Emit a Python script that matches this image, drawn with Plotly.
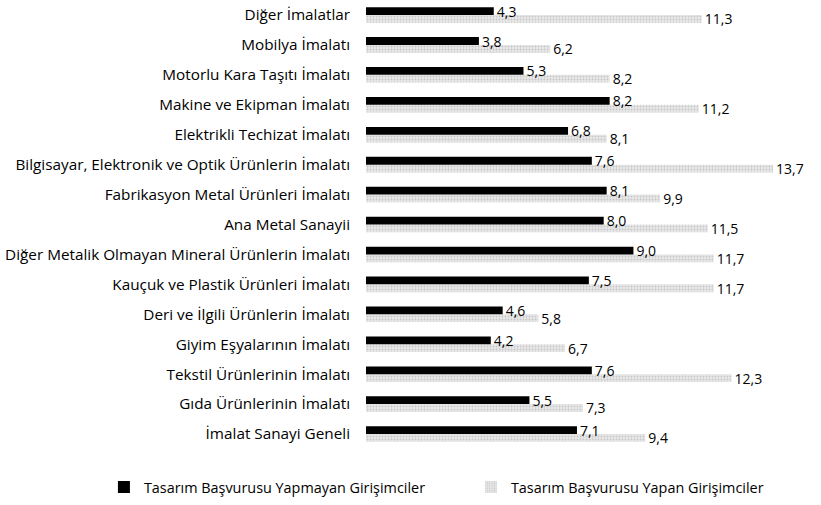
import plotly.graph_objects as go

categories = [
    "Diğer İmalatlar",
    "Mobilya İmalatı",
    "Motorlu Kara Taşıtı İmalatı",
    "Makine ve Ekipman İmalatı",
    "Elektrikli Techizat İmalatı",
    "Bilgisayar, Elektronik ve Optik Ürünlerin İmalatı",
    "Fabrikasyon Metal Ürünleri İmalatı",
    "Ana Metal Sanayii",
    "Diğer Metalik Olmayan Mineral Ürünlerin İmalatı",
    "Kauçuk ve Plastik Ürünleri İmalatı",
    "Deri ve İlgili Ürünlerin İmalatı",
    "Giyim Eşyalarının İmalatı",
    "Tekstil Ürünlerinin İmalatı",
    "Gıda Ürünlerinin İmalatı",
    "İmalat Sanayi Geneli",
]
yapmayan = [4.3, 3.8, 5.3, 8.2, 6.8, 7.6, 8.1, 8.0, 9.0, 7.5, 4.6, 4.2, 7.6, 5.5, 7.1]
yapan = [11.3, 6.2, 8.2, 11.2, 8.1, 13.7, 9.9, 11.5, 11.7, 11.7, 5.8, 6.7, 12.3, 7.3, 9.4]
series_names = ["Tasarım Başvurusu Yapmayan Girişimciler", "Tasarım Başvurusu Yapan Girişimciler"]

FONT = "Open Sans"

fig = go.Figure()
fig.add_trace(go.Bar(
    y=categories, x=yapan, orientation="h", name=series_names[1], legendrank=2,
    marker=dict(color="#dcdcdc", line=dict(width=0),
                pattern=dict(shape=".", fgcolor="#a5a5a5", bgcolor="#e8e8e8", size=3, solidity=0.3)),
    texttemplate="%{x:.1f}", textposition="outside", cliponaxis=False, constraintext="none",
    textfont=dict(family=FONT, size=14, color="#000000"),
))
fig.add_trace(go.Bar(
    y=categories, x=yapmayan, orientation="h", name=series_names[0], legendrank=1,
    marker=dict(color="#000000", line=dict(width=0)),
    texttemplate="%{x:.1f}", textposition="outside", cliponaxis=False, constraintext="none",
    textfont=dict(family=FONT, size=14, color="#000000"),
))

fig.update_layout(
    width=821, height=505,
    margin=dict(l=366, r=39, t=0, b=56, autoexpand=False),
    paper_bgcolor="white", plot_bgcolor="white",
    separators=",.",
    barmode="group", bargap=0.48, bargroupgap=0,
    font=dict(family=FONT, size=14, color="#000000"),
    showlegend=True,
    legend=dict(orientation="h", x=-0.63, xanchor="left", y=-0.085, yanchor="middle",
                font=dict(family=FONT, size=14.4, color="#000000"),
                itemwidth=30, entrywidth=322, entrywidthmode="pixels",
                traceorder="normal"),
)
fig.update_xaxes(range=[0, 14], visible=False, showgrid=False, zeroline=False, automargin=False)
fig.update_yaxes(categoryorder="array", categoryarray=list(reversed(categories)),
                 showgrid=False, zeroline=False, showline=False, ticks="", automargin=False,
                 ticklabelstandoff=15, tickfont=dict(family=FONT, size=15.3, color="#000000"))

fig.write_html("out.html", config={"displayModeBar": False},
               post_script="document.body.style.margin='0';")
